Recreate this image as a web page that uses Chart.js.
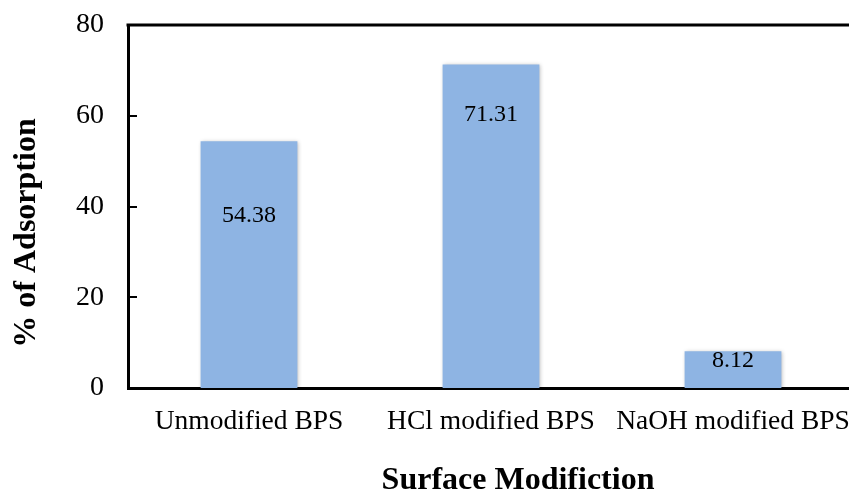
<!DOCTYPE html>
<html>
<head>
<meta charset="utf-8">
<script src="https://cdn.jsdelivr.net/npm/chart.js@4.4.1/dist/chart.umd.min.js"></script>
<style>
  html, body { margin: 0; padding: 0; background: #fff; overflow: hidden; }
  #wrap { position: relative; width: 856px; height: 494px; }
</style>
</head>
<body>
<div id="wrap"><canvas id="chart"></canvas></div>
<script>
// Adsorption results for each surface treatment
const categories = ['Unmodified BPS', 'HCl modified BPS', 'NaOH modified BPS'];
const adsorption = [54.38, 71.31, 8.12];
const yTicks = [0, 20, 40, 60, 80];

const SERIF = '"Liberation Serif", "Times New Roman", serif';

// Value labels, inner tick marks, top frame line and axis titles
const decorations = {
  id: 'decorations',
  beforeDatasetsDraw(chart) {
    const ctx = chart.ctx;
    ctx.save();
    ctx.shadowColor = 'rgba(0,0,0,0.28)';
    ctx.shadowBlur = 4;
    ctx.shadowOffsetX = 1;
    ctx.shadowOffsetY = 1;
    chart._shadowSaved = true;
  },
  afterDatasetsDraw(chart, args, opts) {
    const ctx = chart.ctx;
    if (chart._shadowSaved) { ctx.restore(); chart._shadowSaved = false; }
    const area = chart.chartArea;
    const y = chart.scales.y;

    // frame line along the top
    ctx.save();
    ctx.strokeStyle = '#000';
    ctx.lineWidth = 3;
    ctx.beginPath();
    ctx.moveTo(area.left - 1.5, area.top);
    ctx.lineTo(area.right, area.top);
    ctx.stroke();

    // inward tick marks on the value axis
    ctx.lineWidth = 2;
    yTicks.forEach(v => {
      const py = Math.round(y.getPixelForValue(v));
      ctx.beginPath();
      ctx.moveTo(area.left, py);
      ctx.lineTo(area.left + 9, py);
      ctx.stroke();
    });

    // value labels inside the bars
    const meta = chart.getDatasetMeta(0);
    ctx.fillStyle = '#000';
    ctx.font = '24px ' + SERIF;
    ctx.textAlign = 'center';
    ctx.textBaseline = 'middle';
    meta.data.forEach((bar, i) => {
      const txt = adsorption[i].toFixed(2);
      ctx.fillText(txt, bar.x, bar.y + opts.labelOffsets[i]);
    });

    // axis titles
    ctx.font = 'bold 32px ' + SERIF;
    ctx.fillText('Surface Modifiction', opts.xTitle.x, opts.xTitle.y);
    ctx.translate(opts.yTitle.x, opts.yTitle.y);
    ctx.rotate(-Math.PI / 2);
    ctx.fillText('% of Adsorption', 0, 0);
    ctx.restore();
  }
};

new Chart(document.getElementById('chart'), {
  type: 'bar',
  data: {
    labels: categories,
    datasets: [{
      data: adsorption,
      backgroundColor: '#8eb4e3',
      borderWidth: 0,
      categoryPercentage: 1.0,
      barPercentage: 0.4
    }]
  },
  options: {
    responsive: true,
    maintainAspectRatio: false,
    animation: false,
    layout: { padding: { top: 25, right: 2, bottom: 0, left: 0 } },
    plugins: {
      legend: { display: false },
      tooltip: { enabled: false },
      decorations: {
        labelOffsets: [74, 50, 10],
        xTitle: { x: 518, y: 481 },
        yTitle: { x: 27, y: 233 }
      }
    },
    scales: {
      x: {
        grid: { display: false, drawTicks: false },
        border: { display: true, color: '#000', width: 3 },
        ticks: {
          color: '#000',
          font: { family: SERIF, size: 27.5 },
          padding: 17,
          maxRotation: 0,
          autoSkip: false
        },
        afterFit(scale) {
          scale.height = 106;
          scale.paddingLeft = 0;
          scale.paddingRight = 0;
        }
      },
      y: {
        min: 0,
        max: 80,
        grid: { display: false, drawTicks: false },
        border: { display: true, color: '#000', width: 3 },
        ticks: {
          stepSize: 20,
          color: '#000',
          font: { family: SERIF, size: 28 },
          padding: 24
        },
        afterFit(scale) {
          scale.width = 128;
          scale.paddingTop = 0;
          scale.paddingBottom = 0;
        }
      }
    }
  },
  plugins: [decorations]
});
</script>
</body>
</html>
